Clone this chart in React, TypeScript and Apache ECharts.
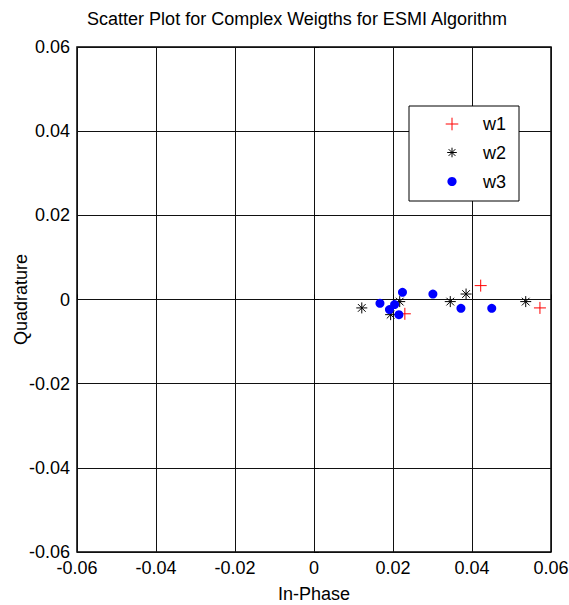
import React, { useEffect, useRef } from "react";
import * as echarts from "echarts";

const titleText = "Scatter Plot for Complex Weigths for ESMI Algorithm";
const xAxisName = "In-Phase";
const yAxisName = "Quadrature";
const seriesNames = ["w1", "w2", "w3"];
const seriesColors = ["#ff0000", "#000000", "#0000ff"];

// [in-phase, quadrature]
const w1Points: [number, number][] = [
  [0.0422, 0.0033],
  [0.0572, -0.002],
  [0.023, -0.0034],
];
const w2Points: [number, number][] = [
  [0.0121, -0.002],
  [0.0194, -0.0036],
  [0.0217, -0.0005],
  [0.0345, -0.0005],
  [0.0385, 0.0013],
  [0.0536, -0.0005],
];
const w3Points: [number, number][] = [
  [0.0224, 0.0017],
  [0.0301, 0.0013],
  [0.0167, -0.0009],
  [0.0204, -0.0012],
  [0.0191, -0.0024],
  [0.0215, -0.0036],
  [0.0372, -0.0021],
  [0.045, -0.0021],
];

const PLUS = "path://M0,5L10,5M5,0L5,10";
const STAR = "path://M0,5L10,5M5,0L5,10M1.5,1.5L8.5,8.5M1.5,8.5L8.5,1.5";

const FONT = "'Liberation Sans', Arial, sans-serif";

const fmt = (v: number) => (Math.abs(v) < 1e-9 ? "0" : v.toFixed(2));

function legendGraphic() {
  const bx = 409, by = 106, bw = 110, bh = 95;
  const ix = 452, tx = 483;
  const rows = [124, 152.5, 181.5];
  const els: any[] = [
    { type: "rect", shape: { x: bx, y: by, width: bw, height: bh }, style: { fill: "#fff", stroke: "#000", lineWidth: 1 }, z: 100 },
  ];
  // w1 plus
  const p = 6.3;
  els.push(
    { type: "line", shape: { x1: ix - p, y1: rows[0], x2: ix + p, y2: rows[0] }, style: { stroke: seriesColors[0], lineWidth: 1 }, z: 101 },
    { type: "line", shape: { x1: ix, y1: rows[0] - p, x2: ix, y2: rows[0] + p }, style: { stroke: seriesColors[0], lineWidth: 1 }, z: 101 }
  );
  // w2 asterisk
  const s = 4.8, d = 3.4;
  const cy = rows[1];
  els.push(
    { type: "line", shape: { x1: ix - s, y1: cy, x2: ix + s, y2: cy }, style: { stroke: seriesColors[1], lineWidth: 1 }, z: 101 },
    { type: "line", shape: { x1: ix, y1: cy - s, x2: ix, y2: cy + s }, style: { stroke: seriesColors[1], lineWidth: 1 }, z: 101 },
    { type: "line", shape: { x1: ix - d, y1: cy - d, x2: ix + d, y2: cy + d }, style: { stroke: seriesColors[1], lineWidth: 1 }, z: 101 },
    { type: "line", shape: { x1: ix - d, y1: cy + d, x2: ix + d, y2: cy - d }, style: { stroke: seriesColors[1], lineWidth: 1 }, z: 101 }
  );
  // w3 dot
  els.push({ type: "circle", shape: { cx: ix, cy: rows[2], r: 4.6 }, style: { fill: seriesColors[2] }, z: 101 });
  seriesNames.forEach((n, i) => {
    els.push({
      type: "text",
      x: tx,
      y: rows[i],
      style: { text: n, fontFamily: FONT, fontSize: 18, fill: "#000", verticalAlign: "middle", align: "left" },
      z: 101,
    });
  });
  return els;
}

export default function App() {
  const ref = useRef<HTMLDivElement>(null);
  useEffect(() => {
    if (!ref.current) return;
    const chart = echarts.init(ref.current, null, { renderer: "svg" });
    chart.setOption({
      animation: false,
      backgroundColor: "#fff",
      title: {
        text: titleText,
        left: 297,
        top: 10,
        padding: 0,
        textAlign: "center",
        textStyle: { fontFamily: FONT, fontSize: 18, fontWeight: "normal", color: "#000" },
      },
      graphic: legendGraphic(),
      grid: {
        left: 77,
        right: 18,
        top: 47,
        bottom: 53,
        containLabel: false,
        outerBoundsMode: "none",
        show: true,
        borderColor: "#000",
        borderWidth: 1.5,
        backgroundColor: "#fff",
      },
      xAxis: {
        type: "value",
        min: -0.06,
        max: 0.06,
        interval: 0.02,
        name: xAxisName,
        nameLocation: "middle",
        nameGap: 33,
        nameMoveOverlap: false,
        nameTextStyle: { fontFamily: FONT, fontSize: 18, color: "#000", verticalAlign: "top" },
        axisLine: { show: false },
        axisTick: { show: true, inside: true, length: 5, lineStyle: { color: "#000" } },
        axisLabel: { fontFamily: FONT, fontSize: 18, color: "#000", margin: 7, formatter: fmt },
        splitLine: { show: true, lineStyle: { color: "#111", width: 1 } },
      },
      yAxis: {
        type: "value",
        min: -0.06,
        max: 0.06,
        interval: 0.02,
        name: yAxisName,
        nameLocation: "middle",
        nameGap: 47,
        nameMoveOverlap: false,
        nameTextStyle: { fontFamily: FONT, fontSize: 18, color: "#000" },
        axisLine: { show: false },
        axisTick: { show: true, inside: true, length: 5, lineStyle: { color: "#000" } },
        axisLabel: { fontFamily: FONT, fontSize: 18, color: "#000", margin: 7, formatter: fmt },
        splitLine: { show: true, lineStyle: { color: "#111", width: 1 } },
      },
      series: [
        {
          name: seriesNames[0],
          type: "scatter",
          data: w1Points,
          symbol: PLUS,
          symbolSize: 12,
          itemStyle: { color: "transparent", borderColor: seriesColors[0], borderWidth: 1, opacity: 1 },
          z: 3,
        },
        {
          name: seriesNames[1],
          type: "scatter",
          data: w2Points,
          symbol: STAR,
          symbolSize: 11,
          itemStyle: { color: "transparent", borderColor: seriesColors[1], borderWidth: 1, opacity: 1 },
          z: 4,
        },
        {
          name: seriesNames[2],
          type: "scatter",
          data: w3Points,
          symbol: "circle",
          symbolSize: 9,
          itemStyle: { color: seriesColors[2], opacity: 1 },
          z: 5,
        },
      ],
    });
    return () => chart.dispose();
  }, []);
  return <div ref={ref} style={{ width: 569, height: 605, position: "absolute", left: 0, top: 0 }} />;
}
